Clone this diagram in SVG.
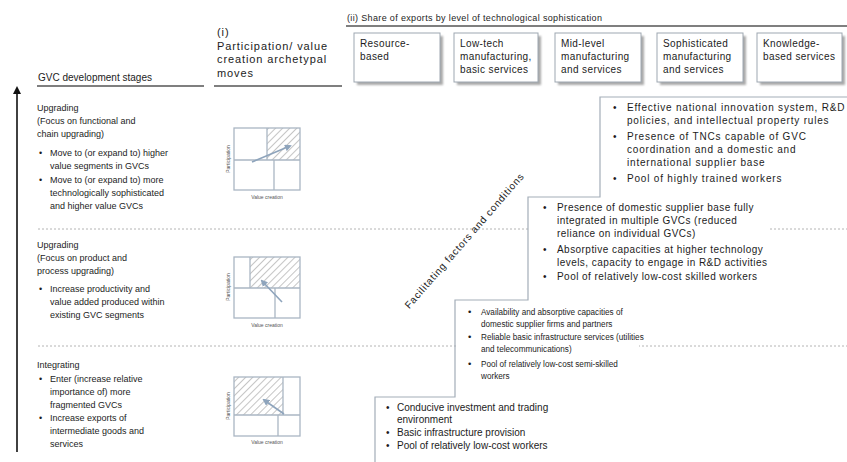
<svg xmlns="http://www.w3.org/2000/svg" width="847" height="462" viewBox="0 0 847 462">
  <defs>
    <style>
      text { font-family: "Liberation Sans", Arial, sans-serif; fill: #1c1c1c; }
      .hd { font-size: 10px; }
      .hd2 { font-size: 11px; letter-spacing: 0.9px; }
      .hd3 { font-size: 9px; letter-spacing: 0.35px; }
      .lt { font-size: 9px; }
      .r1 { font-size: 10px; letter-spacing: 0.8px; }
      .r2 { font-size: 10px; letter-spacing: 0.45px; }
      .r3 { font-size: 9.5px; }
      .r4 { font-size: 10px; }
      .diag { font-size: 10px; letter-spacing: 0.8px; }
      .bx { font-size: 10px; letter-spacing: 0.4px; }
      .tiny { font-size: 5px; fill: #555; }
      .rule { stroke: #555; stroke-width: 1.6; }
      .dash { stroke: #b4b4b4; stroke-width: 1; stroke-dasharray: 2 2; }
      .ebox { fill: #fff; stroke: #9ea7b1; stroke-width: 1; }
      .eshadow { fill: #a9a9a9; filter: url(#soft); }
      .frame { fill: none; stroke: #a3adb8; stroke-width: 1.2; }
      .grid { fill: none; stroke: #aab6c3; stroke-width: 1.3; }
      .move { stroke: #8ea4bc; stroke-width: 1.6; fill: none; marker-end: url(#moveHead); }
    </style>
    <filter id="soft" x="-10%" y="-10%" width="120%" height="120%">
      <feGaussianBlur stdDeviation="1.2"/>
    </filter>
    <pattern id="hatch" width="5" height="5" patternUnits="userSpaceOnUse" patternTransform="rotate(45)">
      <rect width="5" height="5" fill="#fff"/>
      <line x1="0" y1="0" x2="0" y2="5" stroke="#8c8c8c" stroke-width="1"/>
    </pattern>
    <marker id="axisHead" markerWidth="8" markerHeight="8" refX="4" refY="4" orient="auto" markerUnits="userSpaceOnUse">
      <path d="M0,0 L8,4 L0,8 Z" fill="#111"/>
    </marker>
    <marker id="moveHead" markerWidth="7" markerHeight="7" refX="5" refY="3.5" orient="auto" markerUnits="userSpaceOnUse">
      <path d="M0,0 L7,3.5 L0,7 Z" fill="#8ea4bc"/>
    </marker>
  </defs>

  <rect width="847" height="462" fill="#fff"/>

  <!-- stage separators -->
  <g id="separators">
    <line class="dash" x1="38" y1="229" x2="847" y2="229"/>
    <line class="dash" x1="38" y1="346" x2="847" y2="346"/>
  </g>

  <!-- vertical progression arrow -->
  <g id="stage-axis">
    <line x1="17" y1="452" x2="17" y2="90" stroke="#111" stroke-width="1.6" marker-end="url(#axisHead)"/>
  </g>

  <!-- column headers -->
  <g id="headers">
    <text class="hd" x="38" y="81">GVC development stages</text>
    <line class="rule" x1="37" y1="86" x2="204" y2="86"/>
    <text class="hd2" x="217" y="36">(i)</text>
    <text class="hd2" x="217" y="50">Participation/ value</text>
    <text class="hd2" x="217" y="63">creation archetypal</text>
    <text class="hd2" x="217" y="77">moves</text>
    <line class="rule" x1="214" y1="86" x2="342" y2="86"/>
    <text class="hd3" x="347" y="21">(ii) Share of exports by level of technological sophistication</text>
    <line class="rule" x1="346" y1="26" x2="847" y2="26"/>
  </g>

  <!-- export sophistication categories -->
  <g id="export-resource">
    <rect class="eshadow" x="357" y="36" width="86" height="49"/>
    <rect class="ebox" x="354" y="33" width="86" height="49"/>
    <text class="bx" x="360" y="47">Resource-</text>
    <text class="bx" x="360" y="60">based</text>
  </g>
  <g id="export-lowtech">
    <rect class="eshadow" x="457" y="36" width="84" height="49"/>
    <rect class="ebox" x="454" y="33" width="84" height="49"/>
    <text class="bx" x="460" y="47">Low-tech</text>
    <text class="bx" x="460" y="60">manufacturing,</text>
    <text class="bx" x="460" y="73">basic services</text>
  </g>
  <g id="export-midlevel">
    <rect class="eshadow" x="558" y="36" width="86" height="49"/>
    <rect class="ebox" x="555" y="33" width="86" height="49"/>
    <text class="bx" x="561" y="47">Mid-level</text>
    <text class="bx" x="561" y="60">manufacturing</text>
    <text class="bx" x="561" y="73">and services</text>
  </g>
  <g id="export-sophisticated">
    <rect class="eshadow" x="660" y="36" width="86" height="49"/>
    <rect class="ebox" x="657" y="33" width="86" height="49"/>
    <text class="bx" x="663" y="47">Sophisticated</text>
    <text class="bx" x="663" y="60">manufacturing</text>
    <text class="bx" x="663" y="73">and services</text>
  </g>
  <g id="export-knowledge">
    <rect class="eshadow" x="760" y="36" width="85" height="49"/>
    <rect class="ebox" x="757" y="33" width="85" height="49"/>
    <text class="bx" x="763" y="47">Knowledge-</text>
    <text class="bx" x="763" y="60">based services</text>
  </g>

  <!-- stage: functional and chain upgrading -->
  <g id="stage-functional">
    <text class="lt" x="37" y="111">Upgrading</text>
    <text class="lt" x="37" y="124">(Focus on functional and</text>
    <text class="lt" x="37" y="137">chain upgrading)</text>
    <text class="lt" x="39" y="156">•</text>
    <text class="lt" x="50" y="156">Move to (or expand to) higher</text>
    <text class="lt" x="50" y="169">value segments in GVCs</text>
    <text class="lt" x="39" y="183">•</text>
    <text class="lt" x="50" y="183">Move to (or expand to) more</text>
    <text class="lt" x="50" y="196">technologically sophisticated</text>
    <text class="lt" x="50" y="209">and higher value GVCs</text>
    <rect x="267" y="128" width="33" height="32" fill="url(#hatch)"/>
    <rect class="grid" x="234" y="128" width="66" height="62"/>
    <line class="grid" x1="234" y1="160" x2="300" y2="160"/>
    <line class="grid" x1="267" y1="128" x2="267" y2="160"/>
    <line class="grid" x1="274" y1="160" x2="274" y2="190"/>
    <path class="move" d="M252,162 L290,146"/>
    <text class="tiny" transform="translate(230,159) rotate(-90)" text-anchor="middle">Participation</text>
    <text class="tiny" x="267" y="199" text-anchor="middle">Value creation</text>
  </g>

  <!-- stage: product and process upgrading -->
  <g id="stage-product">
    <text class="lt" x="37" y="248">Upgrading</text>
    <text class="lt" x="37" y="261">(Focus on product and</text>
    <text class="lt" x="37" y="274">process upgrading)</text>
    <text class="lt" x="39" y="292">•</text>
    <text class="lt" x="50" y="292">Increase productivity and</text>
    <text class="lt" x="50" y="305">value added produced within</text>
    <text class="lt" x="50" y="318">existing GVC segments</text>
    <rect x="250" y="257" width="50" height="31" fill="url(#hatch)"/>
    <rect class="grid" x="234" y="257" width="66" height="61"/>
    <line class="grid" x1="234" y1="288" x2="300" y2="288"/>
    <line class="grid" x1="250" y1="257" x2="250" y2="288"/>
    <line class="grid" x1="275" y1="288" x2="275" y2="318"/>
    <path class="move" d="M282,302 L262,281"/>
    <text class="tiny" transform="translate(230,287) rotate(-90)" text-anchor="middle">Participation</text>
    <text class="tiny" x="267" y="327" text-anchor="middle">Value creation</text>
  </g>

  <!-- stage: integrating -->
  <g id="stage-integrating">
    <text class="lt" x="37" y="368">Integrating</text>
    <text class="lt" x="39" y="382">•</text>
    <text class="lt" x="50" y="382">Enter (increase relative</text>
    <text class="lt" x="50" y="395">importance of) more</text>
    <text class="lt" x="50" y="408">fragmented GVCs</text>
    <text class="lt" x="39" y="421">•</text>
    <text class="lt" x="50" y="421">Increase exports of</text>
    <text class="lt" x="50" y="434">intermediate goods and</text>
    <text class="lt" x="50" y="447">services</text>
    <rect x="234" y="377" width="49" height="38" fill="url(#hatch)"/>
    <rect class="grid" x="234" y="377" width="66" height="59"/>
    <line class="grid" x1="234" y1="415" x2="300" y2="415"/>
    <line class="grid" x1="283" y1="377" x2="283" y2="415"/>
    <line class="grid" x1="278" y1="415" x2="278" y2="436"/>
    <path class="move" d="M284,414 L264,400"/>
    <text class="tiny" transform="translate(230,406) rotate(-90)" text-anchor="middle">Participation</text>
    <text class="tiny" x="267" y="444" text-anchor="middle">Value creation</text>
  </g>

  <!-- facilitating factors staircase -->
  <g id="factors">
    <rect x="530" y="201" width="240" height="88" fill="#fff"/>
    <rect x="457" y="304" width="182" height="84" fill="#fff"/>
    <path class="frame" d="M375,462 V397 H455 V300 H528 V197 H600 V97 H847"/>
    <text class="diag" transform="translate(467,243) rotate(-49)" text-anchor="middle">Facilitating factors and conditions</text>
  </g>
  <g id="factors-knowledge">
    <text class="r1" x="613" y="111">•</text>
    <text class="r1" x="627" y="111">Effective national innovation system, R&amp;D</text>
    <text class="r1" x="627" y="124">policies, and intellectual property rules</text>
    <text class="r1" x="613" y="140">•</text>
    <text class="r1" x="627" y="140">Presence of TNCs capable of GVC</text>
    <text class="r1" x="627" y="153">coordination and a domestic and</text>
    <text class="r1" x="627" y="166">international supplier base</text>
    <text class="r1" x="613" y="182">•</text>
    <text class="r1" x="627" y="182">Pool of highly trained workers</text>
  </g>
  <g id="factors-sophisticated">
    <text class="r2" x="543" y="211">•</text>
    <text class="r2" x="557" y="211">Presence of domestic supplier base fully</text>
    <text class="r2" x="557" y="224">integrated in multiple GVCs (reduced</text>
    <text class="r2" x="557" y="237">reliance on individual GVCs)</text>
    <text class="r2" x="543" y="253">•</text>
    <text class="r2" x="557" y="253">Absorptive capacities at higher technology</text>
    <text class="r2" x="557" y="266">levels, capacity to engage in R&amp;D activities</text>
    <text class="r2" x="543" y="280">•</text>
    <text class="r2" x="557" y="280">Pool of relatively low-cost skilled workers</text>
  </g>
  <g id="factors-midlevel">
    <text class="r3" x="468" y="315">•</text>
    <text class="r3" x="468" y="340">•</text>
    <text class="r3" x="468" y="367">•</text>
    <!-- condensed set of lines, narrowed horizontally from x=481 -->
    <g transform="translate(481,0) scale(0.86,1) translate(-481,0)">
      <text class="r3" x="481" y="315">Availability and absorptive capacities of</text>
      <text class="r3" x="481" y="327">domestic supplier firms and partners</text>
      <text class="r3" x="481" y="340">Reliable basic infrastructure services (utilities</text>
      <text class="r3" x="481" y="352">and telecommunications)</text>
      <text class="r3" x="481" y="367">Pool of relatively low-cost semi-skilled</text>
      <text class="r3" x="481" y="379">workers</text>
    </g>
  </g>
  <g id="factors-basic">
    <text class="r4" x="386" y="411">•</text>
    <text class="r4" x="397" y="411">Conducive investment and trading</text>
    <text class="r4" x="397" y="423">environment</text>
    <text class="r4" x="386" y="436">•</text>
    <text class="r4" x="397" y="436">Basic infrastructure provision</text>
    <text class="r4" x="386" y="449">•</text>
    <text class="r4" x="397" y="449">Pool of relatively low-cost workers</text>
  </g>
</svg>
